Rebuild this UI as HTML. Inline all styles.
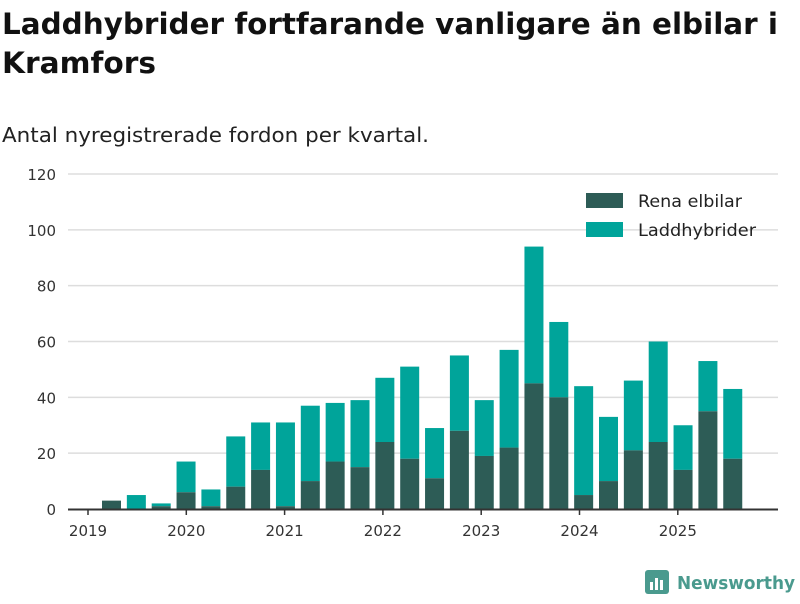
<!DOCTYPE html>
<html><head><meta charset="utf-8"><style>
body{margin:0;background:#fff;width:800px;height:600px;overflow:hidden;font-family:"DejaVu Sans","Liberation Sans",sans-serif;}
svg text{font-family:"DejaVu Sans","Liberation Sans",sans-serif;}
</style></head><body>
<svg id="chart" width="800" height="600">
<text x="2" y="34" font-size="29" font-weight="bold" fill="#111" textLength="776" lengthAdjust="spacingAndGlyphs">Laddhybrider fortfarande vanligare än elbilar i</text>
<text x="2" y="73" font-size="29" font-weight="bold" fill="#111" textLength="154" lengthAdjust="spacingAndGlyphs">Kramfors</text>
<text x="2" y="142" font-size="20" fill="#222" textLength="427" lengthAdjust="spacingAndGlyphs">Antal nyregistrerade fordon per kvartal.</text>
<g id="grid"></g><g id="bars"></g><g id="axis"></g>
<g>
<rect x="586" y="193" width="37" height="15" fill="#2d5c56"/>
<text x="638" y="207" font-size="16.5" fill="#222" textLength="104" lengthAdjust="spacingAndGlyphs">Rena elbilar</text>
<rect x="586" y="222" width="37" height="15" fill="#00a49a"/>
<text x="638" y="236" font-size="16.5" fill="#222" textLength="118" lengthAdjust="spacingAndGlyphs">Laddhybrider</text>
</g>
<g>
<rect x="645" y="570" width="24" height="24" rx="3" fill="#4a9a8e"/>
<rect x="650" y="582" width="3" height="8" fill="#fff"/><rect x="655" y="578" width="3" height="12" fill="#fff"/><rect x="660" y="580" width="3" height="10" fill="#fff"/>
<text x="677" y="589" font-size="18" font-weight="bold" fill="#4a9a8e" textLength="118" lengthAdjust="spacingAndGlyphs">Newsworthy</text>
</g>
</svg>
<script>
const elbilar=[3,0,1,6,1,8,14,1,10,17,15,24,18,11,28,19,22,45,40,5,10,21,24,14,35,18];
const totals=[3,5,2,17,7,26,31,31,37,38,39,47,51,29,55,39,57,94,67,44,33,46,60,30,53,43];
const yTicks=[0,20,40,60,80,100,120];
const years=["2019","2020","2021","2022","2023","2024","2025"];
const NS="http://www.w3.org/2000/svg";
const y=v=>509-v*(335/120);
const xBar=i=>111.5+i*24.85;
const xYear=i=>88+i*98.3;
function mk(t,a,p){const e=document.createElementNS(NS,t);for(const k in a)e.setAttribute(k,a[k]);p.appendChild(e);return e;}
const g=document.getElementById('grid'),b=document.getElementById('bars'),ax=document.getElementById('axis');
yTicks.forEach(v=>{
 if(v>0){const l=mk('line',{x1:68,x2:778,y1:y(v),y2:y(v),stroke:'#ddd','stroke-width':1.5},g);
 
 }
 const t=mk('text',{x:56,y:y(v)+6,'font-size':15,fill:'#333','text-anchor':'end'},g);t.textContent=v;
 
 
});
elbilar.forEach((e,i)=>{
 const tot=totals[i],w=19,x=xBar(i)-w/2;
 const r2=mk('rect',{x:x,y:y(tot),width:w,height:y(e)-y(tot),fill:'#00a49a'},b);
 
 
 const r1=mk('rect',{x:x,y:y(e),width:w,height:509-y(e),fill:'#2d5c56'},b);
 
 
});
const base=mk('line',{x1:68,x2:778,y1:509.5,y2:509.5,stroke:'#333','stroke-width':2},ax);


years.forEach((yr,i)=>{
 const tk=mk('line',{x1:xYear(i),x2:xYear(i),y1:509,y2:515,stroke:'#333','stroke-width':1.5},ax);
 
 
 const t=mk('text',{x:xYear(i),y:536,'font-size':15,fill:'#333','text-anchor':'middle'},ax);t.textContent=yr;
 
 
});
</script>
</body></html>
